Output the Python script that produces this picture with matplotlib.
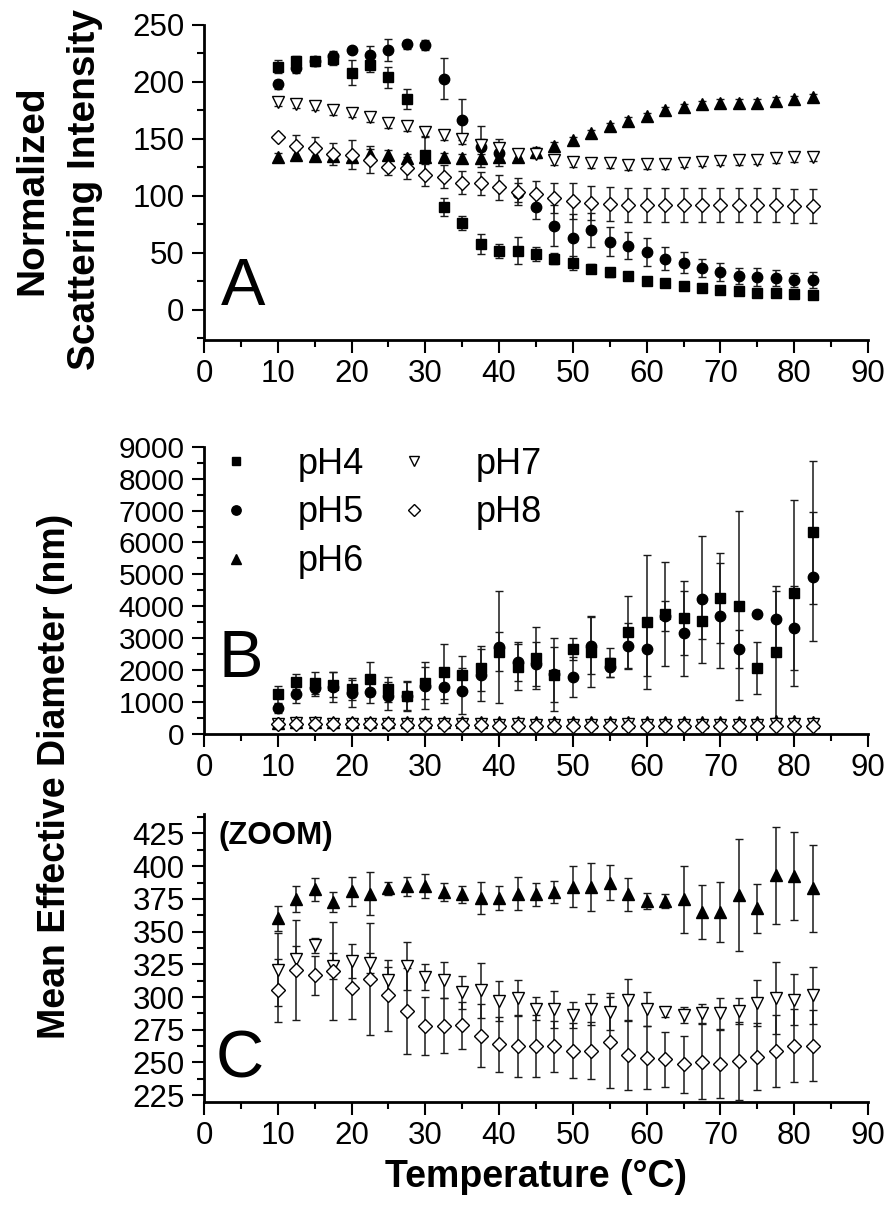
import numpy as np
import matplotlib.pyplot as plt
from matplotlib.lines import Line2D
from matplotlib.ticker import MultipleLocator

plt.rcParams['font.family'] = ['Liberation Sans', 'DejaVu Sans']

# temperature (degC)
temps = [10, 12.5, 15, 17.5, 20, 22.5, 25, 27.5, 30, 32.5, 35, 37.5, 40, 42.5, 45,
         47.5, 50, 52.5, 55, 57.5, 60, 62.5, 65, 67.5, 70, 72.5, 75, 77.5, 80, 82.5]

# panel A: normalized scattering intensity
int_ph4 = [213.5, 218, 218, 220, 208, 215, 204, 185, 136, 90, 76, 58, 52, 52, 49,
           45, 41, 36, 33, 30, 25.5, 23.5, 21, 19, 17.5, 16.5, 15, 15, 14, 13]
int_ph4_err = [6, 5, 4, 5, 11, 6, 9, 9, 16, 8, 6, 9, 6, 12, 6,
               5, 6, 4, 4, 3, 3, 3, 2, 2, 2, 3, 2, 3, 2, 2]
int_ph5 = [198, 212, 218, 223, 228, 224, 228, 233, 232.5, 203, 167, 143, 138, 103, 90,
           74, 63.5, 70, 60, 56.5, 51, 45, 41.5, 37, 33.5, 30, 29, 28, 26.5, 26.5]
int_ph5_err = [4, 4, 3, 4, 3, 8, 10, 4, 4, 18, 18, 18, 12, 8, 10,
               18, 21, 15, 13, 12, 12, 10, 9, 8, 8, 7, 8, 7, 6, 7]
int_ph6 = [134, 136, 135, 135, 134, 137, 136, 133, 134, 134, 133, 133, 134.5, 134.5, 139,
           144, 149, 155, 161, 166, 170, 175, 178, 180.5, 182, 182, 182, 183.5, 185, 186.5]
int_ph6_err = [4, 4, 4, 4, 4, 4, 4, 4, 4, 4, 4, 4, 4, 4, 4,
               3, 3, 3, 3, 3, 3, 3, 3, 3, 3, 3, 3, 3, 3, 3]
int_ph7 = [182.7, 181, 179, 175.4, 173, 169, 164, 161.4, 156.4, 153.5, 149.7, 144.7, 141.8, 137, 137,
           131.6, 129.5, 128.6, 128.6, 127, 128, 128, 129, 130, 131, 131.6, 132, 133, 134, 134.5]
int_ph7_err = [4, 4, 4, 4, 4, 4, 4, 4, 4, 4, 4, 5, 4, 4, 4,
               4, 4, 4, 4, 4, 4, 4, 4, 4, 4, 4, 4, 4, 4, 4]
int_ph8 = [152, 144, 141.8, 136.8, 136, 132, 125.7, 124.3, 118.4, 117, 111.7, 111, 107.6, 103.8, 101.5,
           98, 95.6, 94, 92.7, 92, 92, 92, 92, 92, 92, 92, 92, 92, 91.5, 91]
int_ph8_err = [2, 9.5, 10, 9.8, 12.7, 11.7, 7.7, 9.5, 9.5, 9.8, 10, 10, 11, 12, 12,
               13, 16, 15, 15, 15, 15, 15, 15, 15, 15, 15, 15, 15, 15, 15]

# panels B and C: mean effective diameter (nm)
dia_ph4 = [1244, 1640, 1600, 1550, 1400, 1724, 1400, 1190, 1588, 1954, 1850, 2060, 2580, 2090, 2373,
           1850, 2655, 2580, 2236, 3187, 3500, 3760, 3626, 3552, 4253, 4023, 2059, 2580, 4410, 6322]
dia_ph4_err = [260, 230, 334, 400, 350, 543, 400, 450, 500, 850, 600, 700, 600, 716, 970,
               862, 340, 1113, 444, 1140, 2100, 1630, 1165, 575, 1410, 2962, 810, 2069, 2905, 2236]
dia_ph5 = [805, 1244, 1432, 1463, 1275, 1306, 1190, 1190, 1515, 1463, 1357, 1850, 2737, 2267, 2194,
           1870, 1797, 2768, 2090, 2768, 2665, 3700, 3156, 4222, 3709, 2665, 3761, 3594, 3312, 4932]
dia_ph5_err = [150, 260, 250, 470, 430, 350, 440, 480, 742, 500, 720, 810, 1755, 600, 700,
               1144, 627, 900, 300, 716, 846, 460, 1332, 1985, 1655, 585, 100, 900, 1320, 2011]
dia_ph6 = [360, 374.6, 382.2, 372.7, 380.9, 379, 383, 384.7, 384.7, 380, 378.4, 375.8, 376, 379, 378.4,
           380.4, 384.2, 384.2, 387.3, 378.4, 373.5, 373.5, 374.6, 365, 365, 377.8, 367.7, 393, 392.4, 383]
dia_ph6_err = [9.7, 10, 9, 7.4, 11, 16.6, 4.8, 7.3, 9, 7, 6.4, 12, 9.2, 12.7, 8.7,
               8.3, 15.8, 18.5, 13.2, 12.4, 6.1, 5.3, 25.5, 20.5, 23, 43, 18.5, 37, 33.8, 33.2]
dia_ph7 = [321, 329, 339.6, 323.6, 327.4, 326, 313, 323.6, 315, 313, 303.5, 305, 297, 299.4, 291.2,
           290.5, 286, 290.5, 288.7, 298, 290.5, 288.7, 286, 287.4, 287.4, 289.4, 295.5, 299.4, 298, 301.4]
dia_ph7_err = [28, 10, 5.7, 10, 13, 8, 10, 18.5, 10, 14, 12.4, 21, 15, 13.6, 8.5,
               14.4, 10, 12, 14, 15.7, 13, 3.8, 6, 6.9, 11.6, 10, 17.8, 27.5, 19.7, 21.7]
dia_ph8 = [305, 320.5, 316.7, 320, 307, 314, 301.4, 289.4, 278, 278, 278.5, 270.3, 264, 262.4, 262.4,
           262.4, 258.9, 258.9, 265.3, 255.6, 253.5, 252.5, 248.5, 250.5, 248.5, 251.2, 254.3, 258.9, 262.7, 262.7]
dia_ph8_err = [24, 38, 15, 37.6, 24, 42.7, 27, 33, 22, 21, 18, 24, 21, 23.6, 23.8,
               19.5, 21, 21.7, 35, 26.4, 24, 21, 22, 28.5, 26, 30, 25.5, 27.7, 28, 27]

labels = ['pH4', 'pH5', 'pH6', 'pH7', 'pH8']
markers = ['s', 'o', '^', 'v', 'D']
faces = ['black', 'black', 'black', 'white', 'white']
sizes = [6.5, 7.5, 8, 8.5, 7.2]

TICK = 22.5


def style_axis(ax, ymin, ymax, ymaj, ymin_step):
    ax.set_xlim(0, 90)
    ax.set_ylim(ymin, ymax)
    for side in ['top', 'right']:
        ax.spines[side].set_visible(False)
    for side in ['left', 'bottom']:
        ax.spines[side].set_linewidth(2)
    ax.xaxis.set_major_locator(MultipleLocator(10))
    ax.xaxis.set_minor_locator(MultipleLocator(5))
    ax.yaxis.set_major_locator(MultipleLocator(ymaj))
    ax.yaxis.set_minor_locator(MultipleLocator(ymin_step))
    ax.tick_params(which='major', direction='out', length=9, width=1.5, labelsize=TICK, pad=5)
    ax.tick_params(which='minor', direction='out', length=5, width=1.5)


def draw(ax, ys, errs, idx_list):
    for i in idx_list:
        ax.errorbar(temps, ys[i], yerr=errs[i], fmt=markers[i], ms=sizes[i],
                    mfc=faces[i], mec='black', mew=1, ecolor='0.1',
                    elinewidth=1.1, capsize=3, capthick=1.1, clip_on=False, zorder=3)


fig = plt.figure(figsize=(8.86, 12.07), dpi=100)
axA = fig.add_axes([0.23025, 0.71864, 0.74944, 0.26065])
axB = fig.add_axes([0.23025, 0.39188, 0.74944, 0.23803])
axC = fig.add_axes([0.23025, 0.08724, 0.74944, 0.23853])

# panel A
draw(axA, [int_ph4, int_ph5, int_ph6, int_ph7, int_ph8],
     [int_ph4_err, int_ph5_err, int_ph6_err, int_ph7_err, int_ph8_err], range(5))
style_axis(axA, -26, 250, 50, 25)
axA.text(0.026, 0.11, 'A', transform=axA.transAxes, fontsize=48)

# panel B
draw(axB, [dia_ph4, dia_ph5, dia_ph6, dia_ph7, dia_ph8],
     [dia_ph4_err, dia_ph5_err, dia_ph6_err, dia_ph7_err, dia_ph8_err], range(5))
style_axis(axB, 0, 9000, 1000, 500)
axB.tick_params(axis='y', labelsize=21.5)
axB.text(0.022, 0.198, 'B', transform=axB.transAxes, fontsize=48)

handles = [Line2D([], [], ls='none', marker=markers[i], ms=sizes[i] * 0.9,
                  mfc=faces[i], mec='black', mew=1) for i in range(5)]
axB.legend(handles, labels, loc='upper left', bbox_to_anchor=(0.021, 1.0),
           ncol=2, frameon=False, fontsize=26, borderpad=0, borderaxespad=0,
           handlelength=1.0, handletextpad=1.2, columnspacing=0.9, labelspacing=0.38)

# panel C (zoom)
draw(axC, [dia_ph4, dia_ph5, dia_ph6, dia_ph7, dia_ph8],
     [dia_ph4_err, dia_ph5_err, dia_ph6_err, dia_ph7_err, dia_ph8_err], [2, 3, 4])
style_axis(axC, 220, 440, 25, 12.5)
axC.text(0.017, 0.083, 'C', transform=axC.transAxes, fontsize=48)
axC.text(0.022, 0.975, '(ZOOM)', transform=axC.transAxes, fontsize=22.5,
         fontweight='bold', va='top')
axC.set_xlabel('Temperature (°C)', fontsize=27, fontweight='bold', labelpad=6)

fig.text(59 / 886, 1 - 190 / 1207, 'Normalized\nScattering Intensity', rotation=90,
         ha='center', va='center', fontsize=28, fontweight='bold', linespacing=1.6)
fig.text(55 / 886, 1 - 776 / 1207, 'Mean Effective Diameter (nm)', rotation=90,
         ha='center', va='center', fontsize=27, fontweight='bold')

fig.savefig('out.png', dpi=100)
